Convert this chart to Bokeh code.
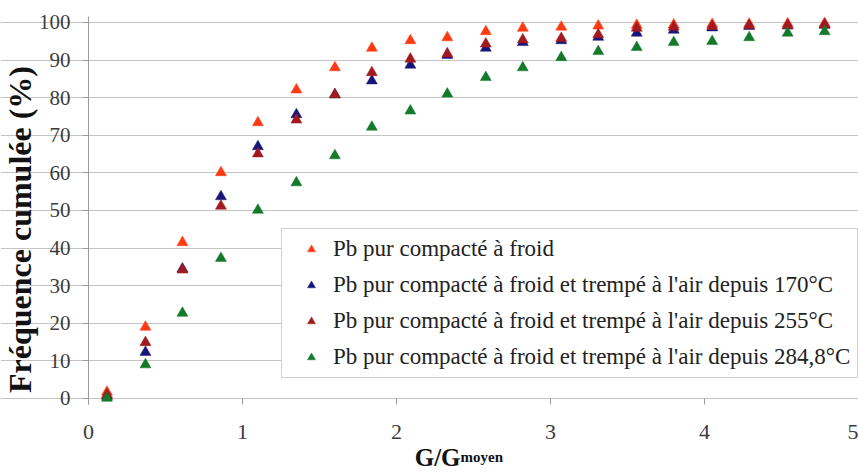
import math
from bokeh.plotting import figure
from bokeh.models import (Range1d, Label, FixedTicker, Legend, LegendItem,
                          LinearAxis, Grid)
from bokeh.embed import file_html
from bokeh.resources import INLINE

# ---- data ----
g_ratio = [0.12, 0.37, 0.61, 0.86, 1.10, 1.35, 1.60, 1.84, 2.09, 2.33,
           2.58, 2.82, 3.07, 3.31, 3.56, 3.80, 4.05, 4.29, 4.54, 4.78]
freq_froid = [1.7, 19.0, 41.5, 60.1, 73.4, 82.1, 88.0, 93.2, 95.2, 96.0,
              97.6, 98.5, 98.8, 99.1, 99.3, 99.4, 99.5, 99.6, 99.7, 99.8]
freq_170 = [0.6, 12.3, 34.5, 53.7, 67.0, 75.5, 80.8, 84.5, 88.7, 91.3,
            93.2, 94.7, 95.2, 96.1, 97.2, 98.0, 98.6, 99.0, 99.1, 99.3]
freq_255 = [1.0, 14.9, 34.2, 51.2, 65.1, 74.1, 80.8, 86.7, 90.3, 91.7,
            94.3, 95.4, 95.8, 96.8, 98.5, 98.8, 99.0, 99.2, 99.2, 99.4]
freq_2848 = [0.1, 9.0, 22.7, 37.3, 50.1, 57.4, 64.6, 72.2, 76.5, 81.0,
             85.4, 88.0, 90.7, 92.3, 93.4, 94.7, 95.0, 96.0, 97.2, 97.6]
series_labels = ["Pb pur compacté à froid",
                 "Pb pur compacté à froid et trempé à l'air depuis 170°C",
                 "Pb pur compacté à froid et trempé à l'air depuis 255°C",
                 "Pb pur compacté à froid et trempé à l'air depuis 284,8°C"]
series_colors = ["#ff3a12", "#16167a", "#a11a1f", "#137a2a"]
x_ticks = [0, 1, 2, 3, 4, 5]
y_ticks = [0, 10, 20, 30, 40, 50, 60, 70, 80, 90, 100]
y_title = "Fréquence cumulée (%)"
x_title_main = "G/G"
x_title_sub = "moyen"

SERIF = "'Liberation Serif', 'Times New Roman', serif"

# The drawing frame covers the whole canvas; axes are pinned at the data origin.
X_LOW, X_HIGH = -0.5714, 5.0
Y_LOW, Y_AXIS, Y_TOP_AXIS, Y_HIGH = -19.95, -1.6, 101.6, 105.85

p = figure(width=858, height=473, output_backend="svg", toolbar_location=None,
           x_range=Range1d(X_LOW, X_HIGH), y_range=Range1d(Y_LOW, Y_HIGH),
           x_axis_location=None, y_axis_location=None,
           min_border_left=0, min_border_right=0, min_border_top=0,
           min_border_bottom=0)
p.outline_line_color = None
p.background_fill_color = "white"
p.border_fill_color = "white"
for g in p.grid:
    g.visible = False

# horizontal grid lines only over the value area
ygrid = Grid(dimension=1, ticker=FixedTicker(ticks=y_ticks), bounds=(0, X_HIGH),
             grid_line_color="#c4c4c4", grid_line_width=1)
p.add_layout(ygrid, "center")

# x axis at the bottom of the value area
xaxis = LinearAxis(fixed_location=Y_AXIS, ticker=FixedTicker(ticks=x_ticks))
xaxis.axis_line_color = None
xaxis.major_tick_in = 6
xaxis.major_tick_out = 0
xaxis.major_tick_line_color = "#9a9a9a"
xaxis.minor_tick_line_color = None
xaxis.major_label_standoff = 20
xaxis.major_label_text_font = SERIF
xaxis.major_label_text_font_size = "22px"
xaxis.major_label_text_color = "#3c3c3c"
p.add_layout(xaxis, "below")

# y axis at x = 0
yaxis = LinearAxis(fixed_location=0, ticker=FixedTicker(ticks=y_ticks),
                   bounds=(Y_AXIS, Y_TOP_AXIS))
yaxis.axis_line_color = "#9a9a9a"
yaxis.major_tick_in = 0
yaxis.major_tick_out = 6
yaxis.major_tick_line_color = "#9a9a9a"
yaxis.minor_tick_line_color = None
yaxis.major_label_standoff = 12
yaxis.major_label_text_font = SERIF
yaxis.major_label_text_font_size = "21px"
yaxis.major_label_text_color = "#3c3c3c"
p.add_layout(yaxis, "left")

# series
renderers = []
for vals, col in zip([freq_froid, freq_170, freq_255, freq_2848], series_colors):
    r = p.scatter(g_ratio, vals, marker="triangle", size=11,
                  fill_color=col, line_color=col, line_width=0.5)
    renderers.append(r)

legend = Legend(items=[LegendItem(label=lab, renderers=[r])
                       for lab, r in zip(series_labels, renderers)],
                location=(281, 95))
legend.label_text_font = SERIF
legend.label_text_font_size = "23px"
legend.label_text_color = "#222222"
legend.glyph_width = 44
legend.glyph_height = 20
legend.label_height = 20
legend.label_standoff = 0
legend.spacing = 10
legend.padding = 7
legend.margin = 0
legend.border_line_color = "#a0a0a0"
legend.border_line_width = 1
legend.background_fill_color = "white"
legend.background_fill_alpha = 1.0
p.add_layout(legend, "center")

# axis titles
p.add_layout(Label(x=-0.4455, y=44.95, text=y_title, angle=math.pi / 2,
                   text_align="center", text_baseline="middle",
                   text_font=SERIF, text_font_style="bold",
                   text_font_size="32px", text_color="#111111"))
p.add_layout(Label(x=2.416, y=-15.6, text=x_title_main,
                   text_align="right", text_baseline="alphabetic",
                   text_font=SERIF, text_font_style="bold",
                   text_font_size="25px", text_color="#111111"))
p.add_layout(Label(x=2.416, y=-15.6, text=x_title_sub,
                   text_align="left", text_baseline="alphabetic",
                   text_font=SERIF, text_font_style="bold",
                   text_font_size="15px", text_color="#111111"))

open("out.html", "w").write(file_html(p, INLINE))
